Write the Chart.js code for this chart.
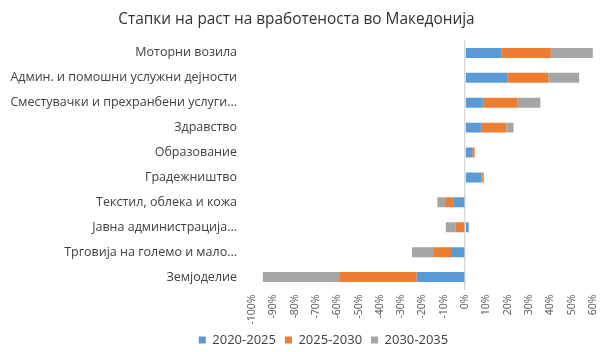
<!DOCTYPE html>
<html><head><meta charset="utf-8">
<script src="https://cdn.jsdelivr.net/npm/chart.js@4"></script>
<style>html,body{margin:0;padding:0;background:#fff}#w{width:602px;height:352px}</style>
</head><body><div id="w"><canvas id="c"></canvas></div>
<script>
const categories = ["Моторни возила","Админ. и помошни услужни дејности","Сместувачки и прехранбени услуги...","Здравство","Образование","Градежништво","Текстил, облека и кожа","Јавна администрација...","Трговија на големо и мало...","Земјоделие"];
const s2020_2025 = [0.172, 0.20, 0.083, 0.074, 0.033, 0.078, -0.056, 0.017, -0.066, -0.227];
const s2025_2030 = [0.23, 0.19, 0.164, 0.12, 0.011, 0.005, -0.038, -0.044, -0.08, -0.36];
const s2030_2035 = [0.197, 0.145, 0.106, 0.033, 0.002, 0.005, -0.036, -0.047, -0.103, -0.362];
const seriesNames = ["2020-2025","2025-2030","2030-2035"];
const colors = ["#5B9BD5","#ED7D31","#A5A5A5"];
const FONT = "'Open Sans', 'Liberation Sans', Arial, sans-serif";
const data = [s2020_2025, s2025_2030, s2030_2035];
const shiftLegend = {id: 'shiftLegend', afterLayout(chart){ const l = chart.legend; if (l) { l.left += 27; l.right += 27; } }};
new Chart(document.getElementById('c'), {
  type: 'bar',
  data: {
    labels: categories,
    datasets: data.map((d,i)=>({label: seriesNames[i], data: d, backgroundColor: colors[i], categoryPercentage: 1, barPercentage: 0.4, borderWidth: 0}))
  },
  plugins: [shiftLegend],
  options: {
    indexAxis: 'y', responsive: true, maintainAspectRatio: false, animation: false,
    layout: {padding: {left: 0, right: 9, top: 0, bottom: -4.5}},
    plugins: {
      title: {display: true, text: 'Стапки на раст на вработеноста во Македонија', color: '#333', font: {family: FONT, size: 15.4, weight: 'normal'}, padding: {top: 10, bottom: 12}},
      legend: {position: 'bottom', labels: {boxWidth: 7, boxHeight: 7, color: '#404040', font: {family: FONT, size: 13}, padding: 9}},
      tooltip: {enabled: false}
    },
    scales: {
      x: {stacked: true, min: -1, max: 0.6,
        ticks: {stepSize: 0.1, minRotation: 90, maxRotation: 90, color: '#595959', font: {family: FONT, size: 10.5}, padding: 5,
          callback: v => Math.round(v*100) + '%'},
        grid: {drawTicks: false, color: c => (c.tick && Math.abs(c.tick.value) < 1e-9) ? '#D9D9D9' : 'rgba(0,0,0,0)', lineWidth: 1.5},
        border: {display: false},
        afterFit: s => { s.height = 35; s.paddingLeft = 0; s.paddingRight = 0; }
      },
      y: {stacked: true,
        ticks: {color: '#404040', font: {family: FONT, size: 12.5}, padding: 15},
        grid: {display: false, drawTicks: false}, border: {display: false},
        afterFit: s => { s.width = 252; s.paddingTop = 0; s.paddingBottom = 0; }
      }
    }
  }
});
</script></body></html>
